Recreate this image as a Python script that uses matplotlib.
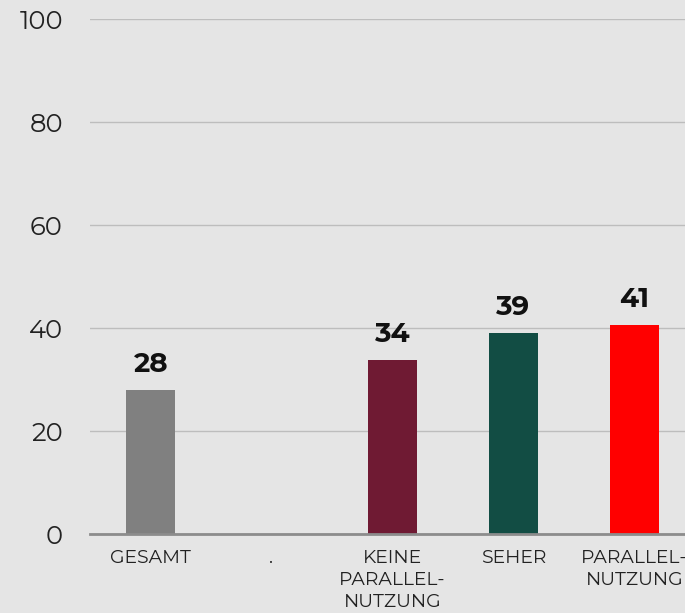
import matplotlib
matplotlib.use("Agg")
import matplotlib.pyplot as plt
from matplotlib import font_manager as fm
import numpy as np
import os

categories = ["GESAMT", ".", "KEINE\nPARALLEL-\nNUTZUNG", "SEHER", "PARALLEL-\nNUTZUNG"]
values = [28.0, np.nan, 33.8, 39.0, 40.6]
labels = ["28", "", "34", "39", "41"]
colors = ["#808080", "#e5e5e5", "#6f1a33", "#124d44", "#ff0000"]
yticks = [0, 20, 40, 60, 80, 100]

# Try to build static Montserrat instances from the installed variable font
reg_fp = None
bold_fp = None
try:
    from fontTools.ttLib import TTFont
    from fontTools.varLib import instancer
    src = [f.fname for f in fm.fontManager.ttflist
           if f.name == 'Montserrat' and f.style == 'normal']
    if src:
        for w, nm in [(400, "mont_reg.ttf"), (700, "mont_bold.ttf")]:
            vf = TTFont(src[0])
            inst = instancer.instantiateVariableFont(vf, {"wght": w})
            inst.save(nm)
        reg_fp = fm.FontProperties(fname=os.path.abspath("mont_reg.ttf"))
        bold_fp = fm.FontProperties(fname=os.path.abspath("mont_bold.ttf"))
except Exception:
    reg_fp = None
    bold_fp = None
if reg_fp is None:
    reg_fp = fm.FontProperties(family=['Montserrat Alternates', 'DejaVu Sans'])
    bold_fp = fm.FontProperties(family=['Montserrat Alternates', 'DejaVu Sans'], weight='bold')

bg = "#e5e5e5"
fig = plt.figure(figsize=(6.85, 6.13), dpi=100, facecolor=bg)
ax = fig.add_axes([90/685, 79/613, 605/685, 515/613], facecolor=bg)

x = np.arange(len(categories))
vals = [0 if np.isnan(v) else v for v in values]
ax.bar(x, vals, width=0.405, color=colors, zorder=3)
for xi, v, lab in zip(x, values, labels):
    if not np.isnan(v):
        ax.annotate(lab, (xi, v), xytext=(0, 13), textcoords="offset points",
                    ha="center", va="baseline", fontproperties=bold_fp,
                    fontsize=20, color="#111111")

ax.set_xlim(-0.5, 4.5)
ax.set_ylim(0, 100)
ax.set_yticks(yticks)
ax.set_yticklabels([str(t) for t in yticks], fontproperties=reg_fp, fontsize=18.5, color="#222222")
ax.set_xticks(x)
ax.set_xticklabels(categories, fontproperties=reg_fp, fontsize=13.5, color="#222222", linespacing=1.28)
ax.tick_params(axis="y", length=0, pad=19.5)
ax.tick_params(axis="x", length=0, pad=11)
ax.grid(axis="y", color="#bdbdbd", linewidth=1, zorder=0)
for s in ["left", "right", "top"]:
    ax.spines[s].set_visible(False)
ax.spines["bottom"].set_color("#8c8c8c")
ax.spines["bottom"].set_linewidth(2)
ax.spines["bottom"].set_zorder(4)

fig.savefig("out.png", dpi=100, facecolor=bg)
